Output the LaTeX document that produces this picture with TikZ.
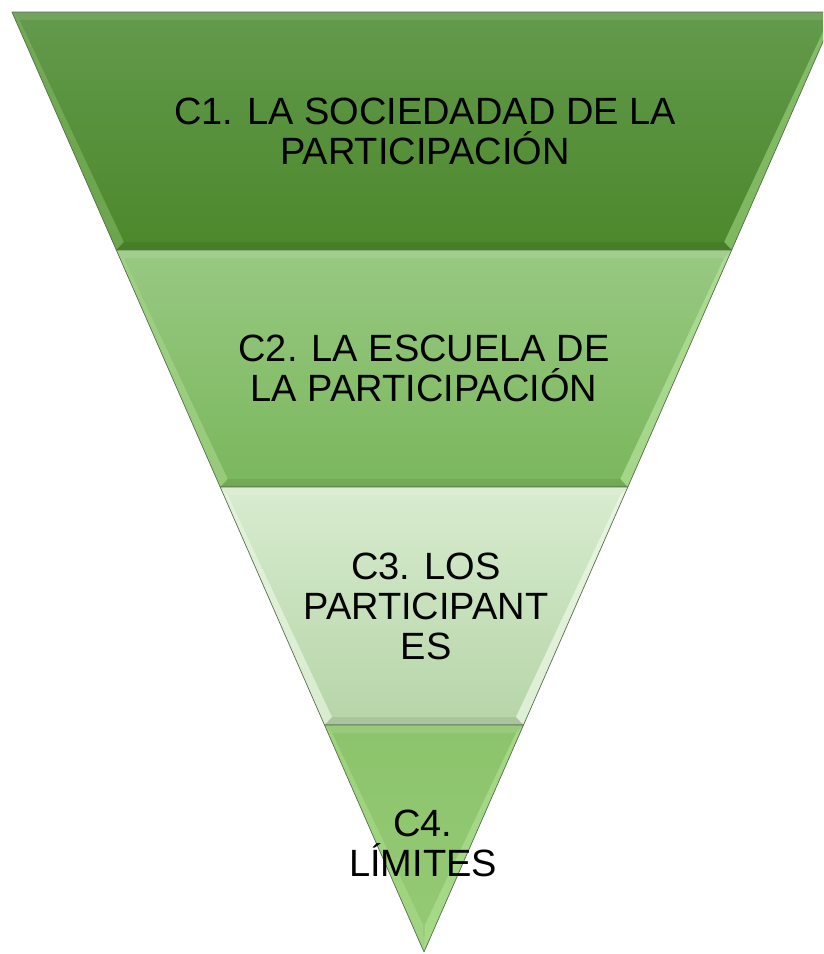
\documentclass[tikz,border=0pt]{standalone}
\usepackage{fontspec}
\setmainfont{Liberation Sans}
\definecolor{aTop}{HTML}{639A4C}
\definecolor{aBot}{HTML}{4C882B}
\definecolor{aL}{HTML}{7AB25C}
\definecolor{aR}{HTML}{94CC76}
\definecolor{bTop}{HTML}{98C982}
\definecolor{bBot}{HTML}{7AB75C}
\definecolor{bL}{HTML}{A3D487}
\definecolor{bR}{HTML}{B6E39C}
\definecolor{cTop}{HTML}{D8ECCF}
\definecolor{cBot}{HTML}{B6D5A8}
\definecolor{cL}{HTML}{E8F6E0}
\definecolor{cR}{HTML}{EEFAE7}
\definecolor{dTop}{HTML}{8CC46C}
\definecolor{dBot}{HTML}{94CA74}
\definecolor{dL}{HTML}{A6DA86}
\definecolor{dR}{HTML}{AEE090}
\definecolor{edge}{HTML}{5A6E50}
\newcommand\hw[1]{0.4383*(952-#1)}
% #1 ytop #2 ybot #3 top col #4 bot col #5 left strip #6 right strip #7 inner bottom y
\newcommand\drawband[7]{%
  \shade[top color=#3, bottom color=#4]
    ({424-\hw{#1}},{-#1}) -- ({424+\hw{#1}},{-#1}) -- ({424+\hw{#2}},{-#2}) -- ({424-\hw{#2}},{-#2}) -- cycle;
  % left bevel strip
  \fill[#5, opacity=0.7]
    ({424-\hw{#1}},{-#1}) -- ({424-\hw{#2}},{-#2}) -- ({424-\hw{#7}+11},{-#7}) -- ({424-\hw{#1+8}+11},{-#1-8}) -- cycle;
  % right bevel strip
  \fill[#6, opacity=0.7]
    ({424+\hw{#1}},{-#1}) -- ({424+\hw{#2}},{-#2}) -- ({424+\hw{#7}-11},{-#7}) -- ({424+\hw{#1+8}-11},{-#1-8}) -- cycle;
  % top bevel strip
  \fill[white, opacity=0.10]
    ({424-\hw{#1}},{-#1}) -- ({424+\hw{#1}},{-#1}) -- ({424+\hw{#1+8}-11},{-#1-8}) -- ({424-\hw{#1+8}+11},{-#1-8}) -- cycle;
  % bottom shadow strip
  \fill[black, opacity=0.07]
    ({424-\hw{#2}},{-#2}) -- ({424+\hw{#2}},{-#2}) -- ({424+\hw{#7}-11},{-#7}) -- ({424-\hw{#7}+11},{-#7}) -- cycle;
  \draw[edge, line width=0.7pt, line join=round]
    ({424-\hw{#1}},{-#1}) -- ({424+\hw{#1}},{-#1}) -- ({424+\hw{#2}},{-#2}) -- ({424-\hw{#2}},{-#2}) -- cycle;
}
\tikzset{lbl/.style={align=center, text=black, inner sep=0pt, font=\fontsize{38}{40}\selectfont}}
\begin{document}
\begin{tikzpicture}[x=1pt,y=1pt]
\useasboundingbox (0,0) rectangle (823,-954);
\clip (0,0) rectangle (823,-954);
\fill[white] (0,0) rectangle (823,-954);
\drawband{12}{250}{aTop}{aBot}{aL}{aR}{242}
\drawband{250}{487}{bTop}{bBot}{bL}{bR}{479}
\drawband{487}{725}{cTop}{cBot}{cL}{cR}{717}
\drawband{725}{952}{dTop}{dBot}{dL}{dR}{926}
\node[lbl] (c1) at (425,-131) {C1. LA SOCIEDADAD DE LA\\PARTICIPACIÓN};
\node[lbl] (c2) at (424,-368) {C2. LA ESCUELA DE\\LA PARTICIPACIÓN};
\node[lbl] (c3) at (426,-606) {C3. LOS\\PARTICIPANT\\ES};
\node[lbl] (c4) at (423,-843) {C4.\\LÍMITES};
\end{tikzpicture}
\end{document}
